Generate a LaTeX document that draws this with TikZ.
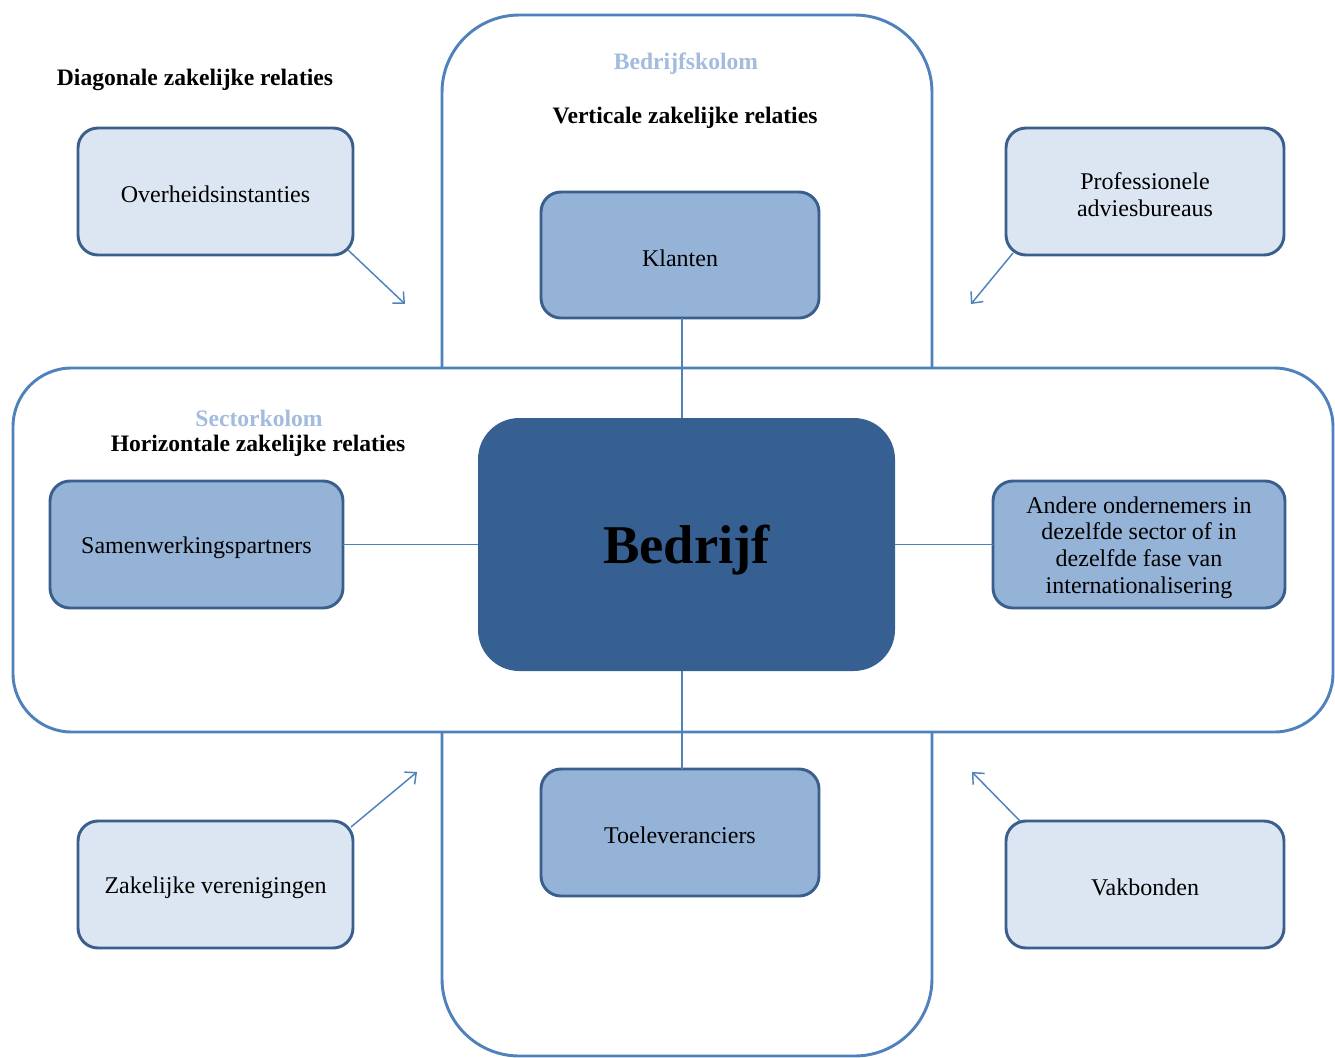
\documentclass[tikz,border=0pt]{standalone}
\usepackage{fontspec}
\setmainfont{Liberation Serif}
\usetikzlibrary{arrows.meta}
\definecolor{colline}{HTML}{4F81BD}
\definecolor{boxborder}{HTML}{3A5F8C}
\definecolor{lightfill}{HTML}{DCE6F2}
\definecolor{midfill}{HTML}{95B3D7}
\definecolor{darkfill}{HTML}{376092}
\definecolor{paletxt}{HTML}{A3BBDD}
\begin{document}
\begin{tikzpicture}[x=0.75pt,y=-0.75pt,
  sz/.style 2 args={minimum width=#1*0.75pt, minimum height=#2*0.75pt, inner sep=0pt, outer sep=0pt},
  column/.style={draw=colline, line width=2.2pt, fill=white, rounded corners=#1},
  boxtxt/.style={align=center, inner sep=0pt, yshift=-2.25pt, font=\fontsize{18}{20}\selectfont},
  coretxt/.style={inner sep=0pt, yshift=-4.5pt, font=\bfseries\fontsize{41}{44}\selectfont},
  lightbox/.style={draw=boxborder, line width=2.2pt, fill=lightfill, rounded corners=15pt},
  midbox/.style={draw=boxborder, line width=2.2pt, fill=midfill, rounded corners=15pt},
  corebox/.style={fill=darkfill, rounded corners=31pt},
  heading/.style={font=\bfseries\fontsize{17.7}{20}\selectfont, inner sep=0pt},
  paleheading/.style={font=\bfseries\fontsize{17.7}{20}\selectfont, text=paletxt, inner sep=0pt},
  link/.style={draw=colline, line width=1.1pt},
  arr/.style={draw=colline, line width=1.1pt, -{Straight Barb[length=6.5pt,width=12pt]}}
]
\useasboundingbox (0,0) rectangle (1335,1057);

% columns
\node[column=58pt, sz={490}{1041}] (vcol) at (687,535.5) {};
\node[column=44pt, sz={1320}{364}] (hcol) at (673,550) {};

% headings
\node[heading] (hdiag) at (195,80) {Diagonale zakelijke relaties};
\node[paleheading] (hbk) at (686,64) {Bedrijfskolom};
\node[heading] (hvert) at (685,118) {Verticale zakelijke relaties};
\node[paleheading] (hsk) at (259,418) {Sectorkolom};
\node[heading] (hhor) at (258,446) {Horizontale zakelijke relaties};

% boxes
\node[corebox, sz={417}{253}, label={[coretxt]center:Bedrijf}] (bed) at (686.5,544.5) {};
\node[midbox, sz={278}{126}, label={[boxtxt]center:Klanten}] (kl) at (680,255) {};
\node[midbox, sz={278}{127}, label={[boxtxt]center:Toeleveranciers}] (toe) at (680,832.5) {};
\node[midbox, sz={293}{127}, label={[boxtxt]center:Samenwerkingspartners}] (sam) at (196.5,544.5) {};
\node[midbox, sz={292}{127}, label={[boxtxt]center:{Andere ondernemers in\\dezelfde sector of in\\dezelfde fase van\\internationalisering}}] (and) at (1139,544.5) {};
\node[lightbox, sz={275}{127}, label={[boxtxt]center:Overheidsinstanties}] (ov) at (215.5,191.5) {};
\node[lightbox, sz={278}{127}, label={[boxtxt]center:{Professionele\\adviesbureaus}}] (prof) at (1145,191.5) {};
\node[lightbox, sz={275}{127}, label={[boxtxt]center:Zakelijke verenigingen}] (zak) at (215.5,884.5) {};
\node[lightbox, sz={278}{127}, label={[boxtxt]center:Vakbonden}] (vak) at (1145,884.5) {};

% connectors
\draw[link] ([xshift=1.5pt]kl.south) -- ([xshift=1.5pt]kl.south |- bed.north);
\draw[link] ([xshift=1.5pt]toe.north) -- ([xshift=1.5pt]toe.north |- bed.south);
\draw[link] (sam.east) -- (sam.east -| bed.west);
\draw[link] (and.west) -- (and.west -| bed.east);

% diagonal arrows
\coordinate (t1) at (405,304);
\coordinate (t2) at (971,304);
\coordinate (t3) at (417,772);
\coordinate (t4) at (972,772);
\draw[arr] ([shift={(-5,-5)}]ov.south east) -- (t1);
\draw[arr] ([shift={(7,-2)}]prof.south west) -- (t2);
\draw[arr] ([shift={(-2,6)}]zak.north east) -- (t3);
\draw[arr] ([shift={(14,0)}]vak.north west) -- (t4);
\end{tikzpicture}
\end{document}
